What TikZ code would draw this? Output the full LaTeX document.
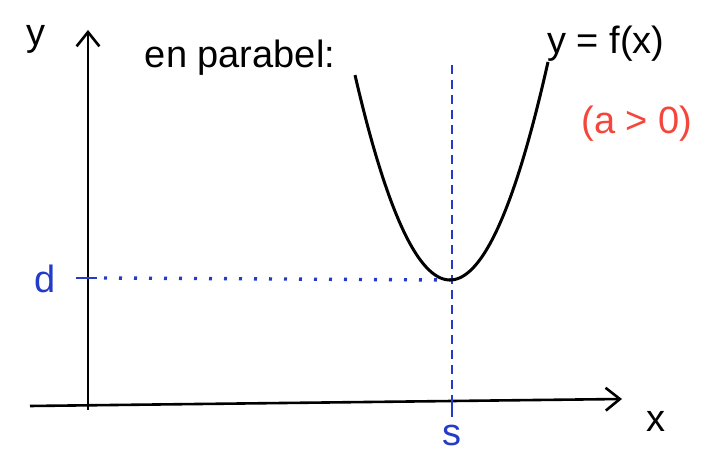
\documentclass[tikz,border=0pt]{standalone}
\usepackage{fontspec}
\setmainfont{Liberation Sans}
\usepackage{xcolor}
\usetikzlibrary{arrows.meta,positioning,calc}
\definecolor{inkblue}{RGB}{35,60,200}
\definecolor{inkred}{RGB}{245,70,60}

\begin{document}
\begin{tikzpicture}[x=1pt, y=1pt,
  axis/.style={-{Straight Barb[length=5mm, width=8mm]}, line width=2.6pt},
  lbl/.style={font=\fontsize{38}{42}\selectfont, inner sep=0pt},
  guide/.style={draw=inkblue, line width=2.6pt},
  curve/.style={draw=black, line width=3pt}
]
\useasboundingbox (0,0) rectangle (713,457);

% axes
\coordinate (xs) at (30,51);
\coordinate (xe) at (622,58);
\coordinate (ys) at (88,47);
\coordinate (ye) at (88,427);
\draw[axis] (xs) -- (xe);
\draw[axis] (ys) -- (ye);

\node[lbl] (ylab) at (36,418) {y};
\node[lbl] (xlab) at (656,36) {x};

% vertex and guide lines
\coordinate (V) at (451,177);
\coordinate (vtop) at (452,392);
\coordinate (vbot) at (452,60);
\coordinate (sup) at (452,62);
\coordinate (sdn) at (452,40);
\coordinate (dl) at (76,179);
\coordinate (dr) at (97,179);
\coordinate (hstart) at (104,179);

\draw[guide, dash pattern=on 9pt off 6pt] (vtop) -- (vbot);
\draw[guide] (sup) -- (sdn);
\draw[guide] (dl) -- (dr);
\draw[guide, line width=3.4pt, dash pattern=on 3pt off 12pt] (hstart) -- (V);

\node[lbl, text=inkblue] (slab) at (452,22) {s};
\node[lbl, text=inkblue] (dlab) at (45,178) {d};

% parabola
\draw[curve, domain=355:548, samples=80, smooth] plot (\x, {177 + 0.0227*(\x-450)^2});

% texts
\node[lbl] (title) at (240,399) {en parabel:};
\node[lbl] (func) at (606,413) {y = f(x)};
\node[lbl, text=inkred] (cond) at (637,333) {(a > 0)};
\end{tikzpicture}
\end{document}
